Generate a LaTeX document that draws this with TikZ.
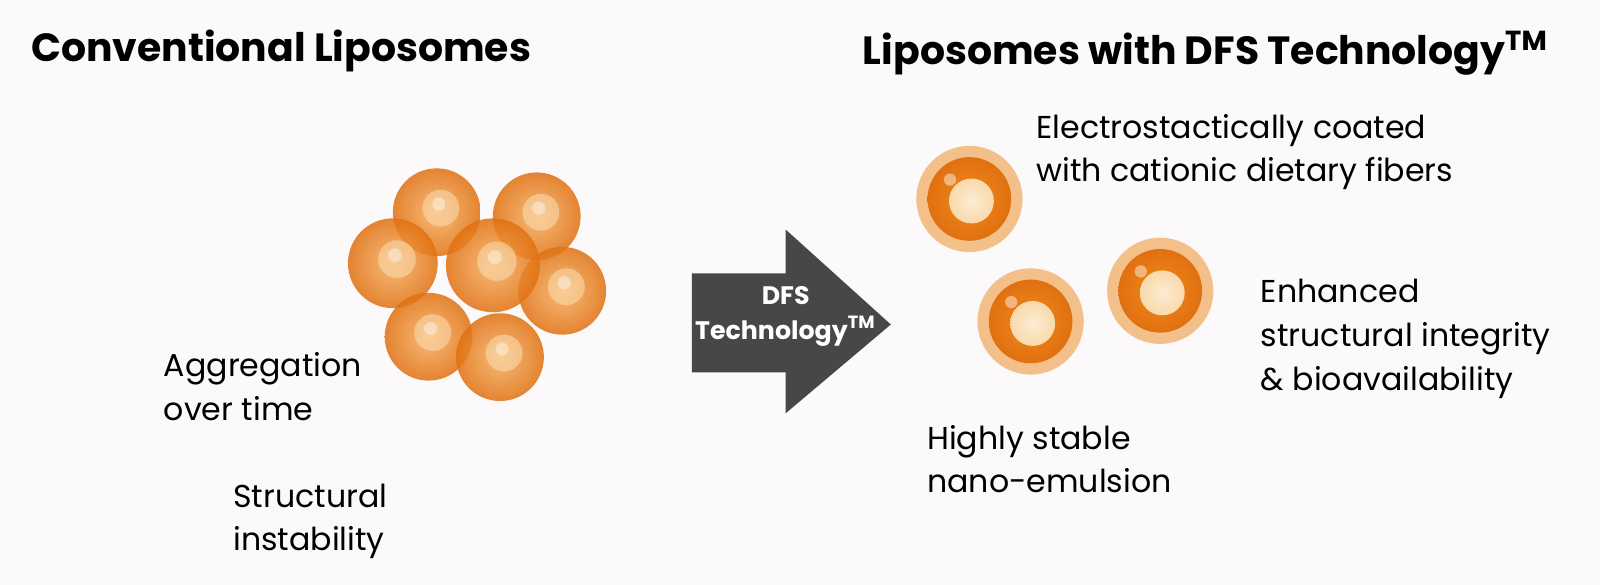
\documentclass[tikz,border=0pt]{standalone}
\usepackage{fontspec}
\setmainfont{Poppins}
\begin{document}
\begin{tikzpicture}[x=0.0102041cm,y=-0.0102041cm,
  lbl/.style={anchor=west,align=left,font=\fontsize{9}{12.45}\selectfont,inner sep=0pt},
  ttl/.style={anchor=west,font=\bfseries\fontsize{11.2}{13}\selectfont,inner sep=0pt}]
\definecolor{bg}{HTML}{FBF9F9}
\definecolor{org}{HTML}{F08A1C}
\definecolor{orgl}{HTML}{F8B060}
\definecolor{orgd}{HTML}{E07010}
\definecolor{fuzz}{HTML}{F3C08A}
\definecolor{core}{HTML}{F9D9AA}
\fill[bg] (0,0) rectangle (1568,573.3);
% cluster
\foreach \n/\x/\y/\r in {c1/428/208/43,c2/526/212/43,c3/385/258/44,c5/551/285/43,c6/420/330/43,c7/490/350/43,c4/483/260/46}{
  \shade[inner color=orgl,outer color=orgd,fill opacity=0.85] (\x,\y) circle (\r);
  \fill[core,opacity=0.6] (\x+4,\y-4) circle (\r*0.42);
  \fill[white,opacity=0.4] (\x+2,\y-8) circle (\r*0.15);
}
% coated spheres
\foreach \x/\y in {950/195,1010/315,1137/285}{
  \fill[fuzz!60] (\x,\y) circle (48);
  \foreach \a in {0,5,...,355}{
    \draw[fuzz,line width=1.5pt] (\x,\y) ++(\a:38) -- ++(\a+3:14);
  }
  \shade[inner color=org,outer color=orgd] (\x,\y) circle (41);
  \shade[inner color=core!50!white,outer color=core] (\x+2,\y+2) circle (22);
  \fill[white,opacity=0.45] (\x-19,\y-19) circle (6);
}
% arrow
\fill[black!72] (678,268) -- (770,268) -- (770,225) -- (873,318) -- (770,405) -- (770,365) -- (678,365) -- cycle;
\node[text=white,font=\bfseries\fontsize{7.2}{10}\selectfont,align=center] (arr) at (770,310) {DFS\\Technology\textsuperscript{TM}};
% texts
\node[ttl] (t1) at (30,50) {Conventional Liposomes};
\node[ttl] (t2) at (845,52) {Liposomes with DFS Technology\textsuperscript{TM}};
\node[lbl] (e) at (1015,149) {Electrostactically coated\\with cationic dietary fibers};
\node[lbl] (en) at (1235,332) {Enhanced\\structural integrity\\\& bioavailability};
\node[lbl] (h) at (908,450) {Highly stable\\nano-emulsion};
\node[lbl] (a) at (160,379) {Aggregation\\over time};
\node[lbl] (s) at (228,511) {Structural\\instability};
\pgfresetboundingbox
\useasboundingbox (0,0) rectangle (1568,573.3);
\end{tikzpicture}
\end{document}
